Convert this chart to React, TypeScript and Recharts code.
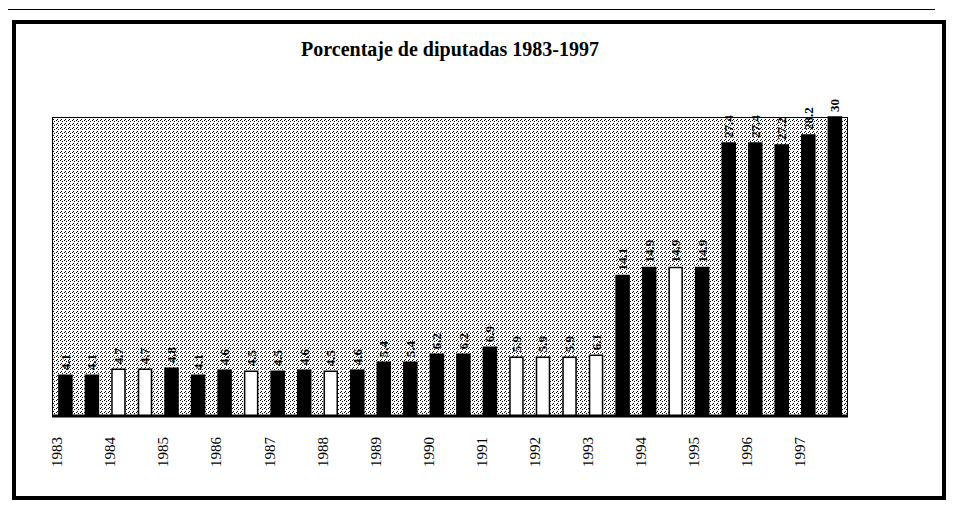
import { Bar, BarChart, CartesianGrid, Cell, LabelList, XAxis, YAxis } from 'recharts'

const years = ['1983', '1984', '1985', '1986', '1987', '1988', '1989', '1990', '1991', '1992', '1993', '1994', '1995', '1996', '1997']

// two readings per year
const periods = years.flatMap((y) => [`${y}-I`, `${y}-II`])

const share = [
  4.1, 4.1, 4.7, 4.7, 4.8, 4.1, 4.6, 4.5, 4.5, 4.6, 4.5, 4.6, 5.4, 5.4, 6.2,
  6.2, 6.9, 5.9, 5.9, 5.9, 6.1, 14.1, 14.9, 14.9, 14.9, 27.4, 27.4, 27.2, 28.2, 30,
]

const hollow = [
  false, false, true, true, false, false, false, true, false, false, true, false, false, false, false,
  false, false, true, true, true, true, false, false, true, false, false, false, false, false, false,
]

const data = periods.map((p, i) => ({ period: p, share: share[i], hollow: hollow[i] }))

const serif = '"Liberation Serif", "DejaVu Serif", serif'

function YearTick({ x, y, index }: any) {
  if (index % 2 !== 0) return null
  const tx = x - 8
  const ty = y + 13
  return (
    <text x={tx} y={ty} transform={`rotate(-90, ${tx}, ${ty})`} textAnchor="end" dominantBaseline="central" fontFamily={serif} fontSize={15} fill="#000">
      {years[index / 2]}
    </text>
  )
}

function ValueLabel({ x, y, width, value }: any) {
  const cx = x + width / 2
  const ty = y - 5
  return (
    <text x={cx} y={ty} transform={`rotate(-90, ${cx}, ${ty})`} textAnchor="start" dominantBaseline="central" fontFamily={serif} fontWeight="bold" fontSize={13} fill="#000">
      {Number.isInteger(value) ? String(value) : value.toFixed(1)}
    </text>
  )
}

export default function App() {
  return (
    <div style={{ position: 'relative', width: 949, height: 499, background: '#fff' }}>
      <div style={{ position: 'absolute', left: -4, top: 1, width: 930, height: 497, borderTop: '1px solid #000', borderLeft: '1px solid #000' }} />
      <div style={{ position: 'absolute', left: 4, top: 12, width: 934, height: 480, border: '4px solid #000', boxSizing: 'border-box' }} />
      <div style={{ position: 'absolute', left: 0, top: 30, width: 884, textAlign: 'center', fontFamily: serif, fontWeight: 'bold', fontSize: 20 }}>
        Porcentaje de diputadas 1983-1997
      </div>
      <div style={{ position: 'absolute', left: 0, top: 0 }}>
        <BarChart width={949} height={499} data={data} margin={{ top: 109, right: 109, left: 44, bottom: 31 }} barCategoryGap="26%">
          <defs>
            <pattern id="dither" width="4" height="4" patternUnits="userSpaceOnUse">
              <rect width="4" height="4" fill="#fff" />
              <rect x="0" y="0" width="1" height="1" fill="#000" />
              <rect x="2" y="1" width="1" height="1" fill="#000" />
              <rect x="1" y="3" width="1" height="1" fill="#000" />
            </pattern>
          </defs>
          <CartesianGrid horizontal={false} vertical={false} fill="url(#dither)" />
          <XAxis dataKey="period" interval={0} height={60} tick={<YearTick />} tickLine={false} axisLine={{ stroke: '#000', strokeWidth: 3 }} />
          <YAxis width={0} domain={[0, 30]} ticks={[]} tick={false} axisLine={{ stroke: '#000' }} />
          <Bar dataKey="share" stroke="#000" strokeWidth={1.5} isAnimationActive={false}>
            {data.map((d) => (
              <Cell key={d.period} fill={d.hollow ? '#fff' : '#000'} />
            ))}
            <LabelList dataKey="share" content={<ValueLabel />} />
          </Bar>
        </BarChart>
      </div>
      <div style={{ position: 'absolute', left: 44, top: 109, width: 796, height: 299, border: '1px solid #000', boxSizing: 'border-box', pointerEvents: 'none' }} />
    </div>
  )
}
